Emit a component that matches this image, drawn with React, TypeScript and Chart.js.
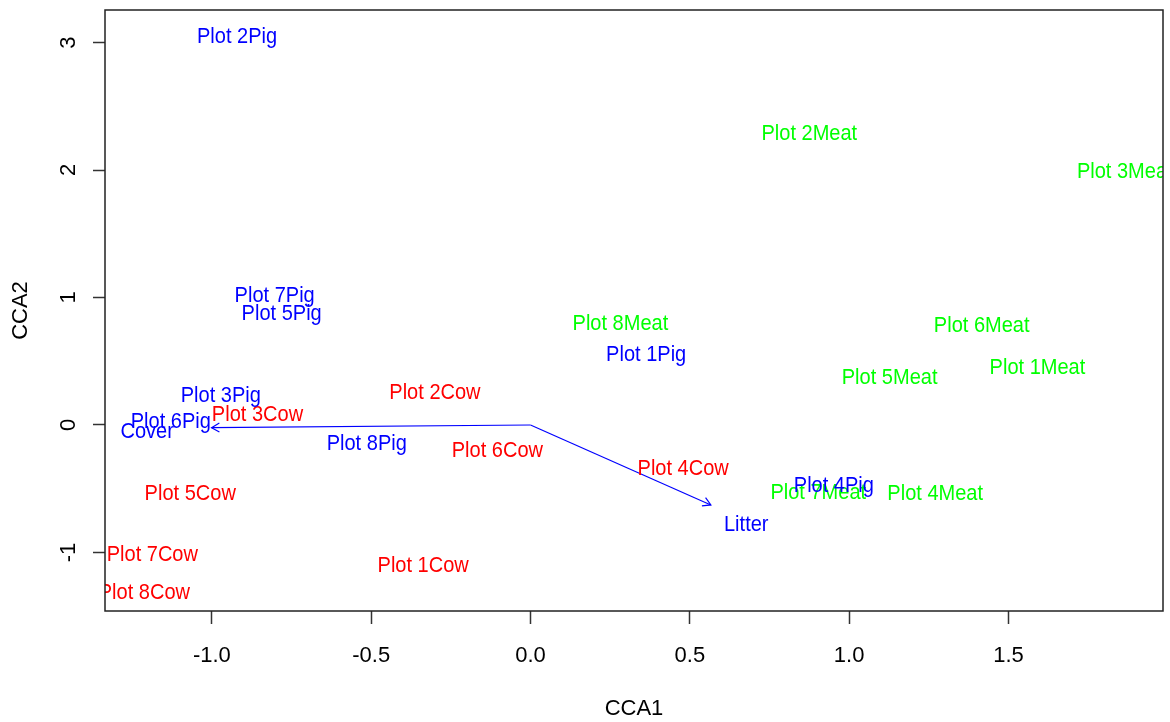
import React, { useEffect, useRef } from 'react';
import { Chart, registerables } from 'chart.js';

Chart.register(...registerables);

// Site scores (label positions) — CCA1 / CCA2
const pigLabels = ['Plot 2Pig', 'Plot 7Pig', 'Plot 5Pig', 'Plot 3Pig', 'Plot 6Pig', 'Plot 8Pig', 'Plot 1Pig', 'Plot 4Pig'];
const pigX = [-0.921, -0.803, -0.781, -0.972, -1.129, -0.514, 0.363, 0.952];
const pigY = [3.059, 1.027, 0.882, 0.243, 0.039, -0.131, 0.562, -0.467];

const cowLabels = ['Plot 2Cow', 'Plot 3Cow', 'Plot 6Cow', 'Plot 4Cow', 'Plot 5Cow', 'Plot 7Cow', 'Plot 8Cow', 'Plot 1Cow'];
const cowX = [-0.3, -0.857, -0.104, 0.479, -1.068, -1.187, -1.212, -0.337];
const cowY = [0.267, 0.092, -0.188, -0.333, -0.529, -1.002, -1.304, -1.089];

const meatLabels = ['Plot 2Meat', 'Plot 3Meat', 'Plot 6Meat', 'Plot 1Meat', 'Plot 5Meat', 'Plot 8Meat', 'Plot 7Meat', 'Plot 4Meat'];
const meatX = [0.875, 1.865, 1.416, 1.591, 1.127, 0.282, 0.903, 1.27];
const meatY = [2.296, 2.0, 0.792, 0.464, 0.384, 0.805, -0.515, -0.527];

// Environmental vectors (arrow tips) and their label positions
const envLabels = ['Cover', 'Litter'];
const envArrowX = [-1.001, 0.566];
const envArrowY = [-0.021, -0.627];
const envLabelX = [-1.203, 0.677];
const envLabelY = [-0.037, -0.769];

const xTicks = [-1.0, -0.5, 0.0, 0.5, 1.0, 1.5];
const yTicks = [-1, 0, 1, 2, 3];
const xRange = [-1.3355, 1.985];
const yRange = [-1.459, 3.255];

const FONT = '"Liberation Sans", Arial, Helvetica, sans-serif';
const BLUE = '#0000FF';
const RED = '#FF0000';
const GREEN = '#00FF00';

const toPoints = (xs: number[], ys: number[]) => xs.map((x, i) => ({ x, y: ys[i] }));

const labelPlugin = {
  id: 'textLabels',
  afterDatasetsDraw(chart: any) {
    const { ctx, chartArea } = chart;
    const fontSize = 22;
    ctx.save();
    ctx.beginPath();
    ctx.rect(chartArea.left, chartArea.top, chartArea.right - chartArea.left, chartArea.bottom - chartArea.top);
    ctx.clip();
    chart.data.datasets.forEach((ds: any, di: number) => {
      const meta = chart.getDatasetMeta(di);
      if (ds.arrow) {
        const p0 = meta.data[0];
        const p1 = meta.data[1];
        if (!p0 || !p1) return;
        const ang = Math.atan2(p1.y - p0.y, p1.x - p0.x);
        const len = 9;
        ctx.strokeStyle = ds.borderColor;
        ctx.lineWidth = 1.2;
        ctx.beginPath();
        ctx.moveTo(p1.x - len * Math.cos(ang - Math.PI / 6), p1.y - len * Math.sin(ang - Math.PI / 6));
        ctx.lineTo(p1.x, p1.y);
        ctx.lineTo(p1.x - len * Math.cos(ang + Math.PI / 6), p1.y - len * Math.sin(ang + Math.PI / 6));
        ctx.stroke();
        return;
      }
      if (!ds.textLabels) return;
      ctx.fillStyle = ds.textColor;
      ctx.font = `${fontSize}px ${FONT}`;
      ctx.textAlign = 'center';
      ctx.textBaseline = 'alphabetic';
      meta.data.forEach((el: any, i: number) => {
        ctx.save();
        ctx.translate(el.x, el.y);
        ctx.scale(0.91, 1);
        ctx.fillText(ds.textLabels[i], 0, fontSize * 0.358);
        ctx.restore();
      });
    });
    ctx.restore();
  },
  afterDraw(chart: any) {
    const { ctx, chartArea } = chart;
    ctx.save();
    ctx.strokeStyle = '#222';
    ctx.lineWidth = 1.5;
    ctx.strokeRect(chartArea.left, chartArea.top, chartArea.right - chartArea.left, chartArea.bottom - chartArea.top);
    ctx.restore();
  },
};

export default function App() {
  const ref = useRef<HTMLCanvasElement | null>(null);

  useEffect(() => {
    if (!ref.current) return;
    const textDs = (labels: string[], xs: number[], ys: number[], color: string) => ({
      type: 'scatter',
      data: toPoints(xs, ys),
      textLabels: labels,
      textColor: color,
      pointRadius: 0,
      pointHoverRadius: 0,
      showLine: false,
    });
    const arrowDs = (i: number) => ({
      type: 'line',
      data: [{ x: 0, y: 0 }, { x: envArrowX[i], y: envArrowY[i] }],
      arrow: true,
      borderColor: BLUE,
      borderWidth: 1.2,
      pointRadius: 0,
      fill: false,
      tension: 0,
    });
    const chart = new Chart(ref.current, {
      type: 'scatter',
      data: {
        datasets: [
          arrowDs(0),
          arrowDs(1),
          textDs(cowLabels, cowX, cowY, RED),
          textDs(meatLabels, meatX, meatY, GREEN),
          textDs(pigLabels, pigX, pigY, BLUE),
          textDs(envLabels, envLabelX, envLabelY, BLUE),
        ] as any,
      },
      options: {
        animation: false,
        responsive: false,
        maintainAspectRatio: false,
        events: [],
        layout: { padding: { top: 10, right: 7, left: 0, bottom: 0 } },
        plugins: { legend: { display: false }, tooltip: { enabled: false } },
        scales: {
          x: {
            type: 'linear',
            min: xRange[0],
            max: xRange[1],
            afterBuildTicks: (s: any) => { s.ticks = xTicks.map((v) => ({ value: v })); },
            afterFit: (s: any) => { s.height = 111; s.paddingLeft = 0; s.paddingRight = 0; s.paddingTop = 0; s.paddingBottom = 0; },
            grid: { drawOnChartArea: false, drawTicks: true, tickLength: 13, tickColor: '#333', tickWidth: 1.5 },
            border: { display: false },
            ticks: {
              color: '#000',
              font: { family: FONT, size: 22 },
              padding: 19,
              maxRotation: 0,
              minRotation: 0,
              autoSkip: false,
              callback: (v: any) => Number(v).toFixed(1),
            },
            title: { display: true, text: 'CCA1', color: '#000', font: { family: FONT, size: 22 }, padding: { top: 0, bottom: 0 } },
          },
          y: {
            type: 'linear',
            min: yRange[0],
            max: yRange[1],
            afterBuildTicks: (s: any) => { s.ticks = yTicks.map((v) => ({ value: v })); },
            afterFit: (s: any) => { s.width = 105; s.paddingLeft = 0; s.paddingRight = 0; s.paddingTop = 0; s.paddingBottom = 0; },
            grid: { drawOnChartArea: false, drawTicks: true, tickLength: 12, tickColor: '#333', tickWidth: 1.5 },
            border: { display: false },
            ticks: {
              color: '#000',
              font: { family: FONT, size: 22 },
              padding: 14.2,
              minRotation: 90,
              maxRotation: 90,
              crossAlign: 'center',
              autoSkip: false,
              callback: (v: any) => String(v),
            },
            title: { display: true, text: 'CCA2', color: '#000', font: { family: FONT, size: 22 }, padding: { top: 8, bottom: 0 } },
          },
        },
      } as any,
      plugins: [labelPlugin],
    });
    return () => chart.destroy();
  }, []);

  return (
    <div style={{ position: 'fixed', left: 0, top: 0, width: 1170, height: 722, background: '#fff' }}>
      <canvas ref={ref} width={1170} height={722} style={{ width: 1170, height: 722, display: 'block' }} />
    </div>
  );
}
